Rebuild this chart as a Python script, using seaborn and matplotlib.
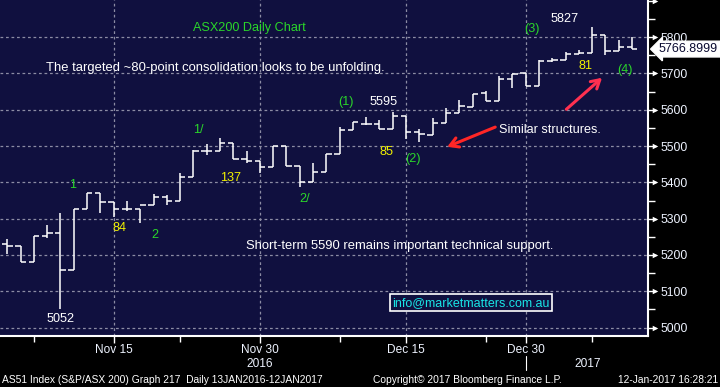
import matplotlib
matplotlib.use("Agg")
import matplotlib.pyplot as plt
import matplotlib.transforms as mtransforms
from matplotlib.lines import Line2D
import numpy as np
import pandas as pd
import seaborn as sns

# ---------------- data (ASX200 daily OHLC) ----------------
opens = [5230, 5226, 5182, 5251, 5260, 5158, 5328, 5370, 5345, 5326,
         5328, 5339, 5359, 5350, 5414, 5485, 5485, 5507, 5463, 5458,
         5441, 5499, 5444, 5400, 5428, 5477, 5543, 5562, 5562, 5546,
         5583, 5539, 5531, 5564, 5592, 5607, 5647, 5625, 5684, 5700,
         5664, 5733, 5738, 5752, 5755, 5807, 5761, 5772]
highs = [5244, 5226, 5251, 5282, 5315, 5328, 5370, 5370, 5345, 5348,
         5328, 5368, 5364, 5425, 5488, 5505, 5521, 5507, 5485, 5458,
         5499, 5499, 5444, 5454, 5477, 5552, 5565, 5579, 5573, 5595,
         5583, 5548, 5578, 5605, 5628, 5644, 5652, 5694, 5698, 5700,
         5736, 5741, 5758, 5763, 5827, 5807, 5791, 5800]
lows = [5202, 5182, 5182, 5248, 5052, 5158, 5328, 5316, 5304, 5322,
        5289, 5339, 5337, 5350, 5414, 5474, 5485, 5463, 5454, 5425,
        5441, 5444, 5386, 5400, 5428, 5477, 5543, 5557, 5546, 5546,
        5520, 5512, 5531, 5564, 5592, 5607, 5625, 5625, 5661, 5664,
        5664, 5730, 5738, 5752, 5755, 5750, 5761, 5766.8999]
closes = [5226, 5182, 5251, 5260, 5158, 5328, 5370, 5345, 5326, 5328,
          5339, 5359, 5350, 5414, 5485, 5485, 5507, 5463, 5458, 5441,
          5499, 5444, 5400, 5428, 5477, 5543, 5565, 5562, 5546, 5584,
          5539, 5534, 5564, 5592, 5610, 5644, 5625, 5684, 5698, 5664,
          5733, 5736, 5752, 5755, 5807, 5761, 5772, 5766.8999]

x_tick_pos = [8, 19, 30, 39]
x_tick_labels = ["Nov 15", "Nov 30", "Dec 15", "Dec 30"]
x_minor_pos = [2, 13, 25, 36, 44]
y_ticks = [5000, 5100, 5200, 5300, 5400, 5500, 5600, 5700, 5800, 5900]
y_labels = ["5000", "5100", "5200", "5300", "5400", "5500", "5600", "5700", "5800", ""]
last_price = "5766.8999"

df = pd.DataFrame({"open": opens, "high": highs, "low": lows, "close": closes})
df["i"] = np.arange(len(df))

# ---------------- style ----------------
sns.set_style("dark", {"axes.facecolor": "#10103f", "figure.facecolor": "black"})
plt.rcParams["font.family"] = ["Liberation Sans", "DejaVu Sans"]

BG = "#10103f"
GRID = "#8c8ca4"
GREEN = "#2ad62a"
YELLOW = "#f2f200"
WHITE = "#ffffff"
LBL = "#eef3ff"

fig = plt.figure(figsize=(7.2, 3.87), dpi=100, facecolor="black")
ax = fig.add_axes([0.0, 51 / 387, 648 / 720, 336 / 387])
ax.set_facecolor(BG)

ax.set_xlim(-0.55, 48.2)
ax.set_ylim(4977, 5902)

# grid
for yv in y_ticks[:-1]:
    ax.axhline(yv, color=GRID, lw=0.9, ls=(0, (2.2, 2.2)), zorder=1)
for xv in x_tick_pos:
    ax.axvline(xv, color=GRID, lw=0.9, ls=(0, (2.2, 2.2)), zorder=1)

# OHLC bars
tk = 0.4
ax.vlines(df["i"], df["low"], df["high"], color=WHITE, lw=1.1, zorder=3)
ax.hlines(df["open"], df["i"] - tk, df["i"], color=WHITE, lw=1.1, zorder=3)
ax.hlines(df["close"], df["i"], df["i"] + tk, color=WHITE, lw=1.1, zorder=3)

# spines
for s in ["left", "top"]:
    ax.spines[s].set_visible(False)
for s in ["bottom", "right"]:
    ax.spines[s].set_visible(True)
    ax.spines[s].set_color(WHITE)
    ax.spines[s].set_linewidth(1.5)

# x axis
ax.set_xticks(x_tick_pos)
ax.set_xticklabels(x_tick_labels)
ax.set_xticks(x_minor_pos, minor=True)
ax.tick_params(axis="x", which="major", direction="out", length=5, width=1,
               color=WHITE, labelcolor=LBL, labelsize=8.6, pad=1, bottom=True)
ax.tick_params(axis="x", which="minor", direction="out", length=4, width=1,
               color=WHITE, bottom=True)

# y axis on right
ax.yaxis.tick_right()
ax.set_yticks(y_ticks)
ax.set_yticklabels(y_labels)
ax.set_yticks([v + 50 for v in y_ticks[:-1]], minor=True)
ax.tick_params(axis="y", which="major", direction="out", length=6, width=1,
               color=WHITE, labelcolor=LBL, labelsize=8.8, pad=3, right=True, left=False)
ax.tick_params(axis="y", which="minor", direction="out", length=5, width=1,
               color=WHITE, right=True, left=False)
ytrans = mtransforms.blended_transform_factory(ax.transAxes, ax.transData)
ax.scatter([1.0 + 6.5 / 648] * len(y_ticks), y_ticks, marker=">", s=16,
           color=WHITE, transform=ytrans, clip_on=False, zorder=5, linewidths=0)

# last price tag
ax.text(1.0 + 11 / 648, closes[-1], last_price, transform=ytrans, ha="left", va="center",
        fontsize=9, color="#0a0a30", zorder=10, clip_on=False,
        bbox=dict(boxstyle="larrow,pad=0.15", fc="white", ec="white"))

# second row of date axis
xtr = ax.get_xaxis_transform()
ax.text(19, -0.083, "2016", transform=xtr, ha="center", va="center", color=LBL,
        fontsize=8.6, clip_on=False)
ax.text(43.7, -0.083, "2017", transform=xtr, ha="center", va="center", color=LBL,
        fontsize=8.6, clip_on=False)
ax.add_line(Line2D([39, 39], [-0.060, -0.100], transform=xtr, color=WHITE, lw=0.8,
                   clip_on=False))

# annotations
def t(x, y, s, c, ha="center", fs=9.1):
    ax.text(x, y, s, color=c, ha=ha, va="center", fontsize=fs, zorder=6)

t(18.2, 5825, "ASX200 Daily Chart", GREEN)
t(2.9, 5715, "The targeted ~80-point consolidation looks to be unfolding.", WHITE, ha="left", fs=9.4)
t(4.94, 5393, "1", GREEN)
t(8.47, 5274, "84", YELLOW)
t(11.1, 5255, "2", GREEN)
t(4.04, 5024, "5052", WHITE)
t(14.4, 5544, "1/", GREEN)
t(16.8, 5412, "137", YELLOW)
t(22.4, 5354, "2/", GREEN)
t(25.5, 5621, "(1)", GREEN)
t(28.3, 5621, "5595", WHITE)
t(28.5, 5484, "85", YELLOW)
t(30.5, 5464, "(2)", GREEN)
t(40.8, 5544, "Similar structures.", WHITE)
t(39.5, 5822, "(3)", GREEN)
t(41.9, 5850, "5827", WHITE)
t(43.5, 5720, "81", YELLOW)
t(46.5, 5709, "(4)", GREEN)
t(29.5, 5225, "Short-term 5590 remains important technical support.", WHITE, fs=9.4)

ax.text(34.9, 5068, "info@marketmatters.com.au", color="#19e6e6", ha="center", va="center",
        fontsize=9, zorder=6,
        bbox=dict(boxstyle="square,pad=0.2", fc=BG, ec=WHITE, lw=1.2))

ax.annotate("", xy=(32.9, 5495), xytext=(36.9, 5555),
            arrowprops=dict(arrowstyle="->,head_length=0.6,head_width=0.35", color="#ff2626", lw=2.2),
            zorder=7)
ax.annotate("", xy=(44.9, 5693), xytext=(41.9, 5596),
            arrowprops=dict(arrowstyle="->,head_length=0.6,head_width=0.35", color="#ff3050", lw=2.2),
            zorder=7)

# footer
fy = 1 - 380 / 387
fig.text(2 / 720, fy, "AS51 Index (S&P/ASX 200) Graph 217  Daily 13JAN2016-12JAN2017",
         color=WHITE, fontsize=7.4, ha="left", va="center")
fig.text(373 / 720, fy, "Copyright\u00a9 2017 Bloomberg Finance L.P.", color=WHITE,
         fontsize=7.4, ha="left", va="center")
fig.text(718 / 720, fy, "12-Jan-2017 16:28:21", color=WHITE, fontsize=7.4,
         ha="right", va="center")

fig.savefig("out.png", dpi=100, facecolor="black")
